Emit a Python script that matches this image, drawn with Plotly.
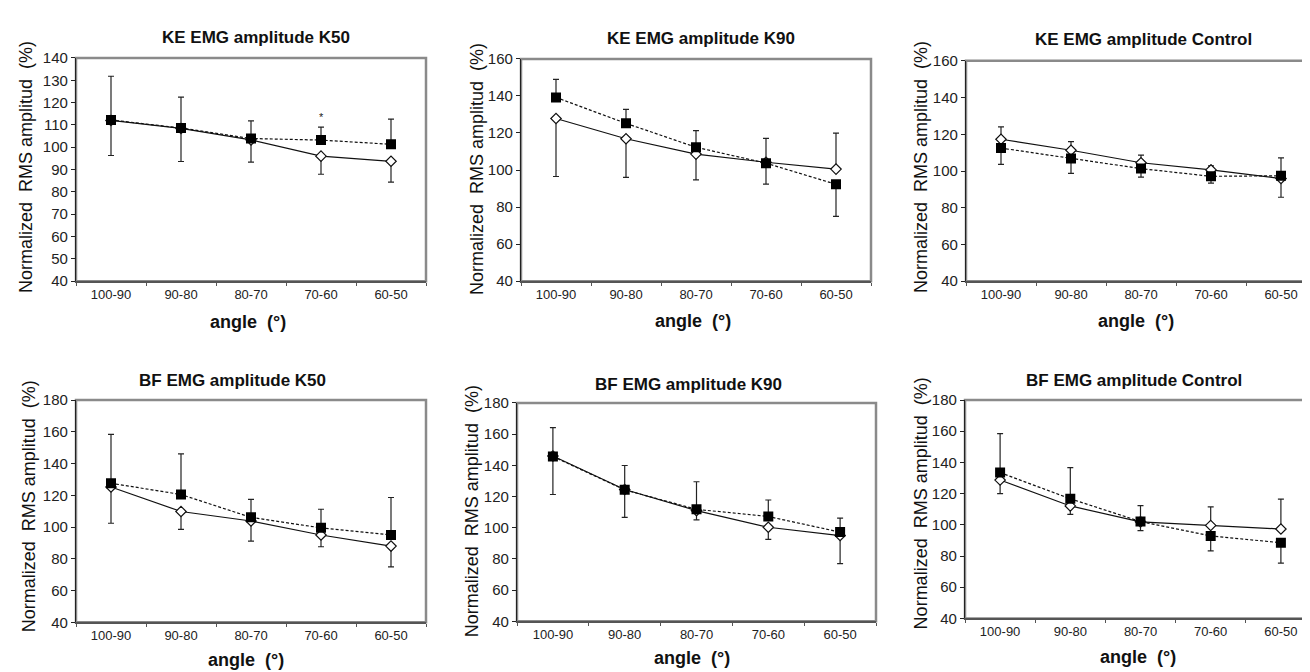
import plotly.graph_objects as go

# ---------------- data ----------------
angles = ["100-90", "90-80", "80-70", "70-60", "60-50"]

panel_titles = [
    "KE EMG amplitude K50", "KE EMG amplitude K90", "KE EMG amplitude Control",
    "BF EMG amplitude K50", "BF EMG amplitude K90", "BF EMG amplitude Control",
]
y_ranges = [[40, 140], [40, 160], [40, 160], [40, 180], [40, 180], [40, 180]]
y_dticks = [10, 20, 20, 20, 20, 20]

# filled squares (dashed line): mean, top of upper bar, bottom of lower bar (None = no bar)
sq_mean = [
    [112.2, 108.6, 103.9, 103.2, 101.3],
    [139.2, 125.2, 112.3, 103.7, 92.3],
    [112.5, 106.8, 101.3, 97.1, 97.4],
    [127.6, 120.5, 106.1, 99.5, 95.0],
    [145.7, 124.3, 111.8, 107.2, 97.2],
    [133.5, 116.7, 102.1, 92.9, 88.5],
]
sq_upper = [
    [131.8, 122.4, 111.8, 109.0, 112.6],
    [148.9, 132.7, 121.3, 117.1, None],
    [None, None, None, None, 107.2],
    [158.4, 146.1, 117.4, 111.2, 118.6],
    [164.2, 139.9, 129.5, 117.8, 106.2],
    [158.5, 136.7, 112.3, None, None],
]
sq_lower = [
    [None, None, None, None, None],
    [None, None, None, None, 75.0],
    [103.6, 98.7, 96.7, 93.4, None],
    [None, None, None, None, None],
    [None, None, None, None, None],
    [None, None, None, 83.3, 75.4],
]

# open diamonds (solid line)
di_mean = [
    [112.0, 108.4, 103.3, 96.0, 93.7],
    [127.8, 116.9, 108.6, 104.2, 100.5],
    [117.3, 111.3, 104.5, 100.6, 95.9],
    [125.2, 109.8, 103.8, 95.0, 88.0],
    [146.0, 124.5, 111.0, 100.3, 95.0],
    [128.7, 112.1, 101.9, 99.6, 97.3],
]
di_upper = [
    [None, None, None, None, None],
    [None, None, None, None, 119.9],
    [124.0, 116.0, 108.6, 102.8, None],
    [None, None, None, None, None],
    [None, None, None, None, None],
    [None, None, None, 111.5, 116.5],
]
di_lower = [
    [96.3, 93.6, 93.3, 87.9, 84.4],
    [96.5, 96.0, 94.7, 92.4, None],
    [None, None, None, None, 85.7],
    [102.4, 98.5, 91.1, 87.6, 74.9],
    [121.3, 106.6, 105.1, 92.6, 77.0],
    [120.0, 106.7, 96.3, None, None],
]

# significance marker
sig_panel = 0
sig_angle = "70-60"
sig_y = 113.5

y_title = "Normalized\u00a0 RMS amplitud\u00a0 (%)"
x_title = "angle\u00a0 (\u00b0)"

# ---------------- layout geometry (pixels) ----------------
W, H = 1310, 672
boxes = [  # x0, x1, ytop, ybottom
    (68, 418, 42, 271), (513, 863, 43, 271), (958, 1308, 45, 271),
    (68, 418, 393, 621), (509, 868, 396, 620), (957, 1308, 393, 617),
]
title_pos = [(248, 21), (693, 22), (1135, 23), (224, 373), (680, 377), (1126, 373)]
ytitle_pos = [(18, 154), (469, 156), (913, 154), (21, 502), (464, 507), (913, 499)]
xtitle_pos = [(240, 313), (685, 312), (1128, 312), (238, 660), (684, 658), (1130, 657)]

FONT = "Liberation Sans, Arial, sans-serif"


def plus(mean, up):
    return [(u - m) if u is not None else 0 for m, u in zip(mean, up)]


def minus(mean, lo):
    return [(m - l) if l is not None else 0 for m, l in zip(mean, lo)]


fig = go.Figure()
annotations = []
shapes = []

for i in range(6):
    xa = "x" if i == 0 else f"x{i+1}"
    ya = "y" if i == 0 else f"y{i+1}"
    # diamonds, solid
    fig.add_trace(go.Scatter(
        x=angles, y=di_mean[i], xaxis=xa, yaxis=ya, mode="lines+markers",
        line=dict(color="#111", width=1.2),
        marker=dict(symbol="diamond", size=8, color="white",
                    line=dict(color="#111", width=1.2)),
        error_y=dict(type="data", symmetric=False,
                     array=plus(di_mean[i], di_upper[i]),
                     arrayminus=minus(di_mean[i], di_lower[i]),
                     color="#222", thickness=1.2, width=3),
        showlegend=False, hoverinfo="skip",
    ))
    # squares, dashed
    fig.add_trace(go.Scatter(
        x=angles, y=sq_mean[i], xaxis=xa, yaxis=ya, mode="lines+markers",
        line=dict(color="#111", width=1.2, dash="3px,2px"),
        marker=dict(symbol="square", size=10, color="black",
                    line=dict(color="black", width=0)),
        error_y=dict(type="data", symmetric=False,
                     array=plus(sq_mean[i], sq_upper[i]),
                     arrayminus=minus(sq_mean[i], sq_lower[i]),
                     color="#222", thickness=1.2, width=3),
        showlegend=False, hoverinfo="skip",
    ))

    x0, x1, yt, yb = boxes[i]
    xk = "xaxis" if i == 0 else f"xaxis{i+1}"
    yk = "yaxis" if i == 0 else f"yaxis{i+1}"
    fig.layout[xk] = dict(
        domain=[x0 / W, x1 / W], anchor=ya, type="category",
        categoryorder="array", categoryarray=angles, range=[-0.5, 4.5],
        showline=True, linecolor="#555", linewidth=2,
        ticks="outside", tickson="boundaries", ticklen=3, tickcolor="#555",
        tickwidth=1, showgrid=False, zeroline=False,
        tickfont=dict(family=FONT, size=13, color="#222"),
        fixedrange=True,
    )
    fig.layout[yk] = dict(
        domain=[1 - yb / H, 1 - yt / H], anchor=xa,
        range=y_ranges[i], dtick=y_dticks[i], tick0=40,
        showline=True, linecolor="#222", linewidth=1.2,
        ticks="outside", ticklen=4, tickcolor="#222", tickwidth=1,
        showgrid=False, zeroline=False,
        tickfont=dict(family=FONT, size=15, color="#222"),
        fixedrange=True,
    )
    # grey plot-area frame (top and right appear grey)
    shapes.append(dict(
        type="rect", xref=f"{xa} domain", yref=f"{ya} domain",
        x0=0, x1=1, y0=0, y1=1, line=dict(color="#8a8a8a", width=2.5),
        layer="below",
    ))

    tx, ty = title_pos[i]
    annotations.append(dict(
        text="<b>" + panel_titles[i] + "</b>", x=tx / W, y=1 - ty / H,
        xref="paper", yref="paper", xanchor="center", yanchor="middle",
        showarrow=False, font=dict(family=FONT, size=17, color="#111"),
    ))
    yx, yy = ytitle_pos[i]
    annotations.append(dict(
        text=y_title, x=yx / W, y=1 - yy / H, textangle=-90,
        xref="paper", yref="paper", xanchor="center", yanchor="middle",
        showarrow=False, font=dict(family=FONT, size=18, color="#111"),
    ))
    ax_, ay_ = xtitle_pos[i]
    annotations.append(dict(
        text="<b>" + x_title + "</b>", x=ax_ / W, y=1 - ay_ / H,
        xref="paper", yref="paper", xanchor="center", yanchor="middle",
        showarrow=False, font=dict(family=FONT, size=18, color="#111"),
    ))

# significance asterisk
annotations.append(dict(
    text="*", x=sig_angle, y=sig_y,
    xref="x" if sig_panel == 0 else f"x{sig_panel+1}",
    yref="y" if sig_panel == 0 else f"y{sig_panel+1}",
    showarrow=False, xanchor="center", yanchor="middle",
    font=dict(family=FONT, size=11, color="#222"),
))

fig.update_layout(
    width=W, height=H, margin=dict(l=0, r=0, t=0, b=0),
    paper_bgcolor="white", plot_bgcolor="white",
    annotations=annotations, shapes=shapes, showlegend=False,
)

fig.write_html("out.html")
